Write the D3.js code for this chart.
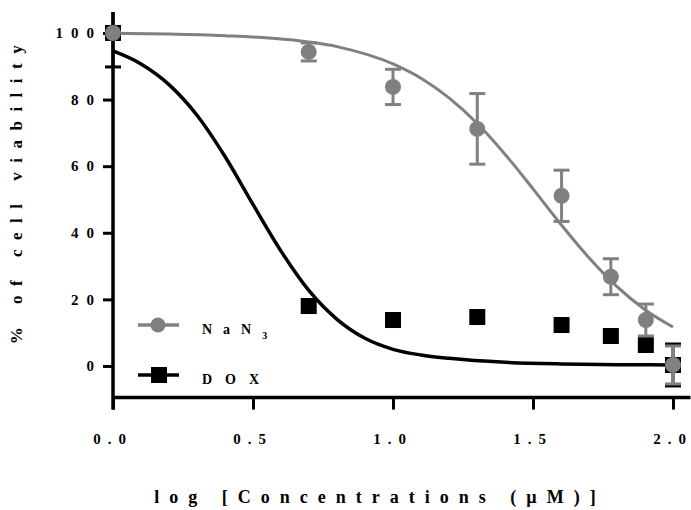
<!DOCTYPE html>
<html><head><meta charset="utf-8">
<script src="https://cdn.jsdelivr.net/npm/d3@7"></script>
<style>
body{margin:0;background:#fff;}
svg{display:block;}
text{font-family:"Liberation Serif","Times New Roman",serif;font-weight:bold;fill:#000;}
</style></head><body>
<svg id="chart" width="691" height="510"></svg>
<script>
// ---- data ----
const logConc  = [0, 0.699, 1.0, 1.301, 1.602, 1.778, 1.903, 2.0];
const nan3Mean = [100, 94.3, 83.8, 71.2, 51.1, 26.8, 13.8, 0.3];
const nan3Err  = [0, 2.7, 5.3, 10.6, 7.7, 5.4, 4.8, 5.7];
const doxMean  = [100, 18.0, 13.8, 14.7, 12.3, 9.0, 6.3, 0.3];
const doxErr   = [10.2, 0, 0, 0, 0, 0, 0, 6.3];
// fitted curves
const nan3CurveX = [0, 0.2, 0.4, 0.6, 0.8, 1.0, 1.1, 1.2, 1.3, 1.4, 1.5, 1.6, 1.7, 1.8, 1.9, 2.0];
const nan3CurveY = [99.9, 99.7, 99.2, 98.2, 95.9, 90.7, 86.4, 80.5, 72.9, 63.6, 53.2, 42.5, 32.5, 23.8, 16.9, 11.7];
const doxCurveX = [0, 0.1, 0.2, 0.3, 0.4, 0.5, 0.6, 0.7, 0.8, 0.9, 1.0, 1.1, 1.2, 1.4, 1.6, 1.8, 2.0];
const doxCurveY = [94.6, 90.7, 84.5, 75.3, 62.9, 48.5, 34.5, 22.6, 14.0, 8.3, 5.0, 3.3, 2.3, 1.1, 0.6, 0.4, 0.3];
const xTicks = [0, 0.5, 1.0, 1.5, 2.0];
const yTicks = [0, 20, 40, 60, 80, 100];
const seriesNames = ["NaN", "DOX"];
const xTitle = "log [Concentrations (µM)]";
const yTitle = "% of cell viability";

const grey = "#808080";
const svg = d3.select("#chart");

const x = d3.scaleLinear().domain([0, 2.0625]).range([113, 690.5]);
const y = d3.scaleLinear().domain([-9.5, 106.3]).range([397.6, 12]);

svg.append("clipPath").attr("id", "plotclip").append("rect")
  .attr("x", 0).attr("y", y(106.3)).attr("width", 691).attr("height", 500);

// spaced label helper: letter-spacing between glyphs only (no trailing space)
function spaced(sel, spacing) {
  sel.each(function () {
    const t = d3.select(this);
    const s = t.text();
    t.text(null);
    t.append("tspan").attr("letter-spacing", spacing + "px").text(s.slice(0, -1));
    t.append("tspan").text(s.slice(-1));
  });
}

// ---- axes ----
const yAxis = d3.axisLeft(y).tickValues(yTicks).tickSize(10).tickSizeOuter(0).tickPadding(9).tickFormat(d3.format("d"));
const gy = svg.append("g").attr("transform", `translate(${x(0)},0)`).call(yAxis);
gy.select(".domain").remove();
gy.selectAll(".tick line").attr("stroke", "#000").attr("stroke-width", 3);
gy.selectAll(".tick text").attr("font-size", 15)
  .attr("font-family", "Liberation Serif").attr("font-weight", "bold").attr("fill", "#000").call(spaced, 8);

const xAxis = d3.axisBottom(x).tickValues(xTicks).tickSize(12).tickSizeOuter(0).tickPadding(24).tickFormat(d3.format(".1f"));
const gx = svg.append("g").attr("transform", `translate(0,${y(-9.5)})`).call(xAxis);
gx.select(".domain").remove();
gx.selectAll(".tick line").attr("stroke", "#000").attr("stroke-width", 3);
gx.selectAll(".tick text").attr("font-size", 15).attr("dx", -4)
  .attr("font-family", "Liberation Serif").attr("font-weight", "bold").attr("fill", "#000").call(spaced, 7);

// axis lines
svg.append("line").attr("x1", x(0)).attr("x2", x(0)).attr("y1", y(106.3)).attr("y2", y(-9.5) + 12)
  .attr("stroke", "#000").attr("stroke-width", 3.5);
svg.append("line").attr("x1", x(0)).attr("x2", x(2.0625)).attr("y1", y(-9.5)).attr("y2", y(-9.5))
  .attr("stroke", "#000").attr("stroke-width", 3.5);

// ---- curves ----
const line = d3.line().x(d => x(d[0])).y(d => y(d[1])).curve(d3.curveMonotoneX);
svg.append("path").datum(doxCurveX.map((v, i) => [v, doxCurveY[i]]))
  .attr("d", line).attr("fill", "none").attr("stroke", "#000").attr("stroke-width", 3.5);
svg.append("path").datum(nan3CurveX.map((v, i) => [v, nan3CurveY[i]]))
  .attr("d", line).attr("fill", "none").attr("stroke", grey).attr("stroke-width", 3);

// ---- error bars + markers ----
function errBars(mean, err, color) {
  const g = svg.append("g").attr("clip-path", "url(#plotclip)");
  logConc.forEach((c, i) => {
    if (!err[i]) return;
    const cx = x(c), t = y(mean[i] + err[i]), b = y(mean[i] - err[i]);
    g.append("line").attr("x1", cx).attr("x2", cx).attr("y1", t).attr("y2", b).attr("stroke", color).attr("stroke-width", 3);
    [t, b].forEach(yy => g.append("line").attr("x1", cx - 8).attr("x2", cx + 8).attr("y1", yy).attr("y2", yy)
      .attr("stroke", color).attr("stroke-width", 3));
  });
}
errBars(doxMean, doxErr, "#000");
svg.append("g").selectAll("rect").data(logConc).join("rect")
  .attr("x", (d) => x(d) - 8).attr("y", (d, i) => y(doxMean[i]) - 8)
  .attr("width", 16).attr("height", 16).attr("fill", "#000");
errBars(nan3Mean, nan3Err, grey);
svg.append("g").selectAll("circle").data(logConc).join("circle")
  .attr("cx", d => x(d)).attr("cy", (d, i) => y(nan3Mean[i])).attr("r", 8).attr("fill", grey);

// ---- legend ----
const lg = svg.append("g");
lg.append("line").attr("x1", 138).attr("x2", 179).attr("y1", 325).attr("y2", 325).attr("stroke", grey).attr("stroke-width", 3.5);
lg.append("circle").attr("cx", 158).attr("cy", 325).attr("r", 7.5).attr("fill", grey);
const t1 = lg.append("text").attr("x", 202).attr("y", 334).attr("font-size", 14).attr("letter-spacing", "11px").text(seriesNames[0]);
t1.append("tspan").attr("font-size", 10).attr("dy", 5).text("3");
lg.append("line").attr("x1", 138).attr("x2", 179).attr("y1", 375).attr("y2", 375).attr("stroke", "#000").attr("stroke-width", 3.5);
lg.append("rect").attr("x", 151).attr("y", 367).attr("width", 16).attr("height", 16).attr("fill", "#000");
lg.append("text").attr("x", 202).attr("y", 384).attr("font-size", 14).attr("letter-spacing", "13px").text(seriesNames[1]);

// ---- titles ----
svg.append("text").attr("x", 380).attr("y", 503).attr("text-anchor", "middle")
  .attr("font-size", 18).attr("letter-spacing", "10px").text(xTitle);
svg.append("text").attr("transform", "translate(22,190) rotate(-90)").attr("text-anchor", "middle")
  .attr("font-size", 17).attr("letter-spacing", "9.5px").text(yTitle);
</script>
</body></html>
